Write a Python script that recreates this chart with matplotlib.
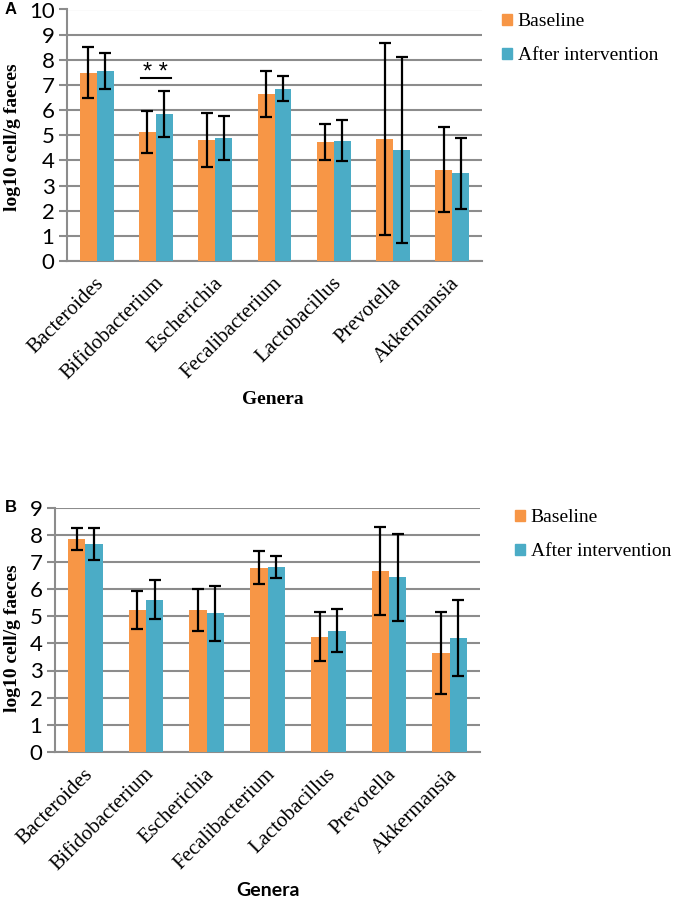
import numpy as np
import matplotlib
matplotlib.use("Agg")
import matplotlib.pyplot as plt
from matplotlib.patches import Patch

genera = ["Bacteroides", "Bifidobacterium", "Escherichia", "Fecalibacterium",
          "Lactobacillus", "Prevotella", "Akkermansia"]

# panel A
a_base = [7.48, 5.14, 4.81, 6.65, 4.72, 4.85, 3.63]
a_base_err = [1.01, 0.83, 1.09, 0.92, 0.71, 3.81, 1.70]
a_after = [7.56, 5.85, 4.89, 6.85, 4.79, 4.42, 3.48]
a_after_err = [0.72, 0.92, 0.89, 0.49, 0.80, 3.71, 1.41]

# panel B
b_base = [7.83, 5.23, 5.23, 6.79, 4.25, 6.68, 3.66]
b_base_err = [0.40, 0.70, 0.78, 0.60, 0.89, 1.62, 1.51]
b_after = [7.65, 5.61, 5.10, 6.82, 4.47, 6.44, 4.18]
b_after_err = [0.60, 0.71, 1.00, 0.40, 0.79, 1.60, 1.40]

orange = "#F79646"
blue = "#4BACC6"
grid_c = "#8c8c8c"
serif = "Liberation Serif"
sans = "Lato"

W, H = 675, 902
fig = plt.figure(figsize=(W / 100, H / 100), dpi=100)


def px_axes(l, t, r, b):
    return fig.add_axes([l / W, 1 - b / H, (r - l) / W, (b - t) / H])


def draw_panel(ax, base, base_err, after, after_err, ymax):
    x = np.arange(len(genera))
    w = 0.285
    ax.bar(x - w / 2, base, w, color=orange, zorder=3)
    ax.bar(x + w / 2, after, w, color=blue, zorder=3)
    ek = dict(fmt="none", ecolor="black", elinewidth=1.6, capsize=4.5, capthick=1.6, zorder=4)
    ax.errorbar(x - w / 2, base, yerr=base_err, **ek)
    ax.errorbar(x + w / 2, after, yerr=after_err, **ek)
    ax.set_xlim(-0.5, len(genera) - 0.5)
    ax.set_ylim(0, ymax)
    ax.set_yticks(range(ymax + 1))
    ax.yaxis.grid(True, color=grid_c, linewidth=1.5, zorder=0)
    ax.set_axisbelow(True)
    for s in ["top", "right"]:
        ax.spines[s].set_visible(False)
    for s in ["left", "bottom"]:
        ax.spines[s].set_color(grid_c)
        ax.spines[s].set_linewidth(1.5)
    ax.tick_params(axis="y", length=6, width=1.5, color=grid_c, pad=3)
    ax.tick_params(axis="x", length=0, pad=14)
    # labels sit a bit right of the group centre, like the original
    ax.set_xticks(x + 0.08)
    ax.set_xticklabels(genera, rotation=45, ha="right", va="center", rotation_mode="anchor",
                       family=serif, fontsize=15)
    for lab in ax.get_yticklabels():
        lab.set_family(sans)
        lab.set_fontsize(16)


# ---- A ----
axA = px_axes(67, 9.5, 482, 261)
draw_panel(axA, a_base, a_base_err, a_after, a_after_err, 10)
axA.plot([0.74, 1.26], [7.26, 7.26], color="black", lw=1.5, zorder=5)
axA.text(1.0, 7.05, "* *", ha="center", va="bottom", fontsize=17, family="Liberation Sans", zorder=5)
fig.text(5 / W, 1 - 10 / H, "A", family="Liberation Sans", weight="bold", fontsize=12, va="center")
fig.text(13 / W, 1 - 137 / H, "log10 cell/g faeces", rotation=90, family=serif,
         weight="bold", fontsize=14, ha="center", va="center")
fig.text(273 / W, 1 - 399 / H, "Genera", family=serif, weight="bold", fontsize=14,
         ha="center", va="center")

# ---- B ----
axB = px_axes(55, 507.5, 480, 752)
draw_panel(axB, b_base, b_base_err, b_after, b_after_err, 9)
fig.text(5 / W, 1 - 507 / H, "B", family="Liberation Sans", weight="bold", fontsize=12, va="center")
fig.text(13 / W, 1 - 638 / H, "log10 cell/g faeces", rotation=90, family=serif,
         weight="bold", fontsize=14, ha="center", va="center")
fig.text(268 / W, 1 - 890 / H, "Genera", family=sans, weight="bold", fontsize=14,
         ha="center", va="center")

handles = [Patch(color=orange, label="Baseline"), Patch(color=blue, label="After intervention")]
for ax, (lx, ly) in [(axA, (502, 13)), (axB, (515, 509))]:
    fig.legend(handles=handles, loc="upper left", bbox_to_anchor=(lx / W, 1 - ly / H),
               frameon=False, prop={"family": serif, "size": 14},
               handlelength=0.5, handleheight=0.5, handletextpad=0.3, labelspacing=0.9,
               borderaxespad=0, borderpad=0)

fig.savefig("out.png", dpi=100)
